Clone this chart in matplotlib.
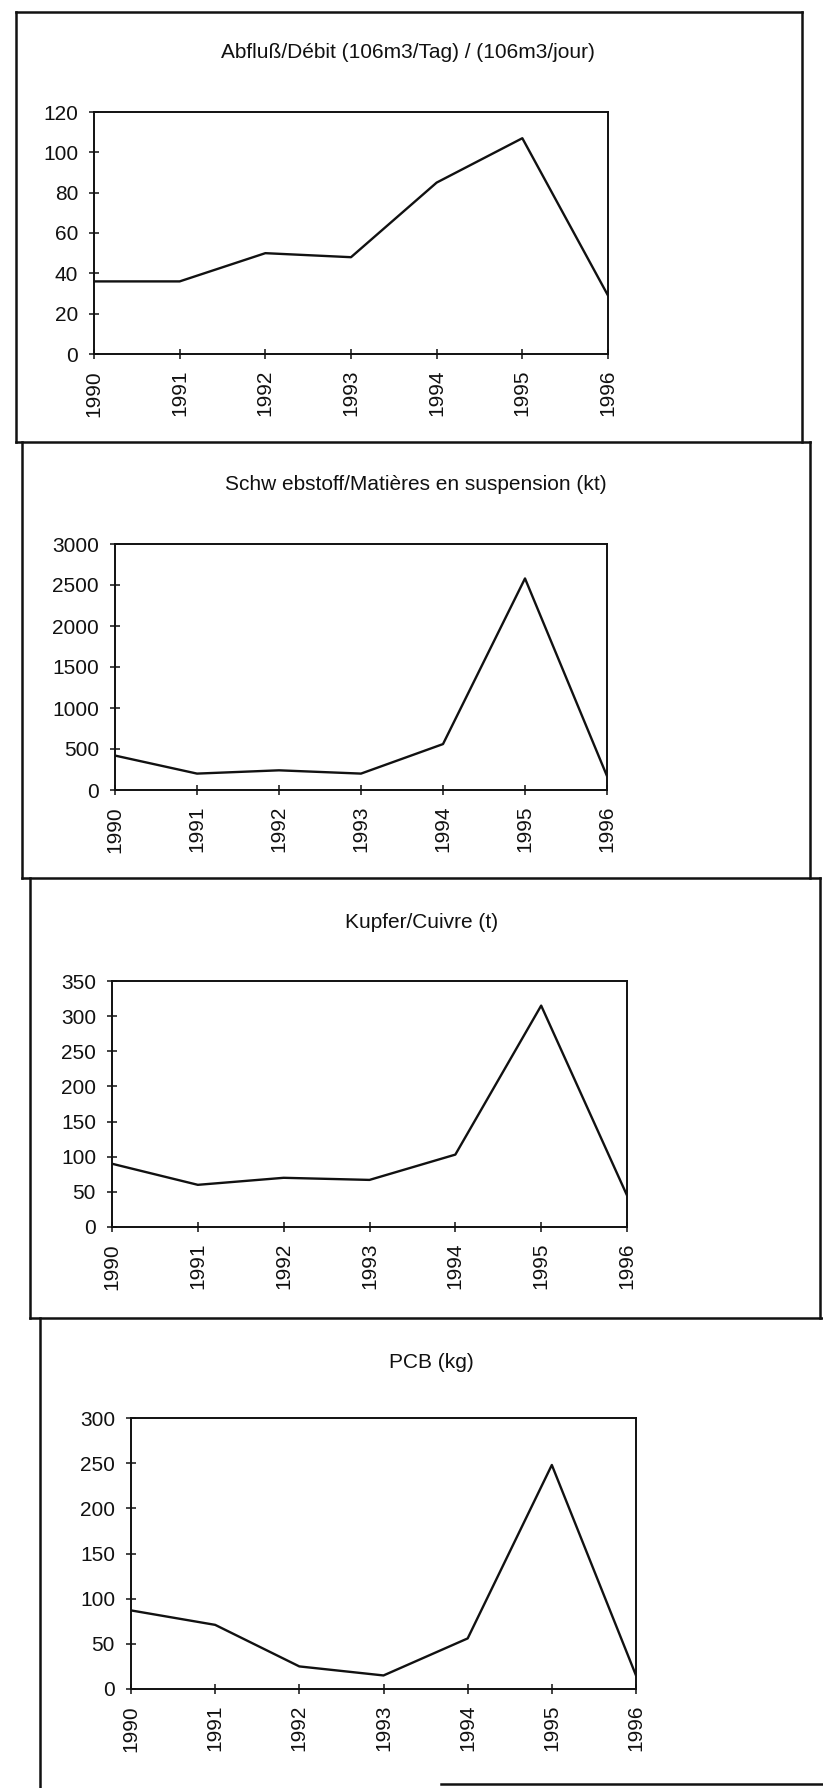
import matplotlib.pyplot as plt
from matplotlib.lines import Line2D

plt.rcParams['font.family'] = ['Liberation Sans', 'DejaVu Sans']

years = [1990, 1991, 1992, 1993, 1994, 1995, 1996]
abfluss = [36, 36, 50, 48, 85, 107, 29]
schwebstoff = [420, 200, 240, 200, 560, 2580, 170]
kupfer = [90, 60, 70, 67, 103, 315, 45]
pcb = [87, 71, 25, 15, 56, 248, 15]

titles = ['Abfluß/Débit (106m3/Tag) / (106m3/jour)',
          'Schw ebstoff/Matières en suspension (kt)',
          'Kupfer/Cuivre (t)',
          'PCB (kg)']
y_max = [120, 3000, 350, 300]
y_step = [20, 500, 50, 50]
series = [abfluss, schwebstoff, kupfer, pcb]

W, H = 823, 1788
fig = plt.figure(figsize=(W / 100, H / 100), dpi=100)


def fx(x):
    return x / W


def fy(y):
    return 1 - y / H


# axes boxes in pixels: left, top, right, bottom
boxes = [(94, 112, 608, 354),
         (115, 544, 607, 790),
         (112, 981, 627, 1227),
         (131, 1418, 636, 1689)]
# title centres in pixels
title_pos = [(408, 52), (416, 485), (422, 922), (431, 1362)]

for i in range(4):
    l, t, r, b = boxes[i]
    ax = fig.add_axes([fx(l), fy(b), (r - l) / W, (b - t) / H])
    ax.plot(years, series[i], color='#111111', lw=1.7)
    ax.set_xlim(1990, 1996)
    ax.set_ylim(0, y_max[i])
    ax.set_yticks(range(0, y_max[i] + 1, y_step[i]))
    ax.set_xticks(years)
    ax.set_xticklabels([str(y) for y in years], rotation=90)
    ax.tick_params(direction='inout', length=7, width=1.1, labelsize=15,
                   pad=8, colors='#111111')
    for s in ax.spines.values():
        s.set_linewidth(1.4)
        s.set_color('#111111')
    fig.text(fx(title_pos[i][0]), fy(title_pos[i][1]), titles[i],
             ha='center', va='center', fontsize=15, color='#111111')

# panel frames of the scanned page
frame = [((16, 12), (802, 12)),
         ((16, 12), (16, 442)),
         ((802, 12), (802, 442)),
         ((16, 442), (810, 442)),
         ((22, 442), (22, 878)),
         ((810, 442), (810, 878)),
         ((22, 878), (820, 878)),
         ((30, 878), (30, 1318)),
         ((820, 878), (820, 1318)),
         ((30, 1318), (823, 1318)),
         ((40, 1318), (40, 1788)),
         ((441, 1784), (823, 1784))]
for (x0, y0), (x1, y1) in frame:
    fig.add_artist(Line2D([fx(x0), fx(x1)], [fy(y0), fy(y1)],
                          color='#111111', lw=1.8))

plt.savefig('out.png', dpi=100)
